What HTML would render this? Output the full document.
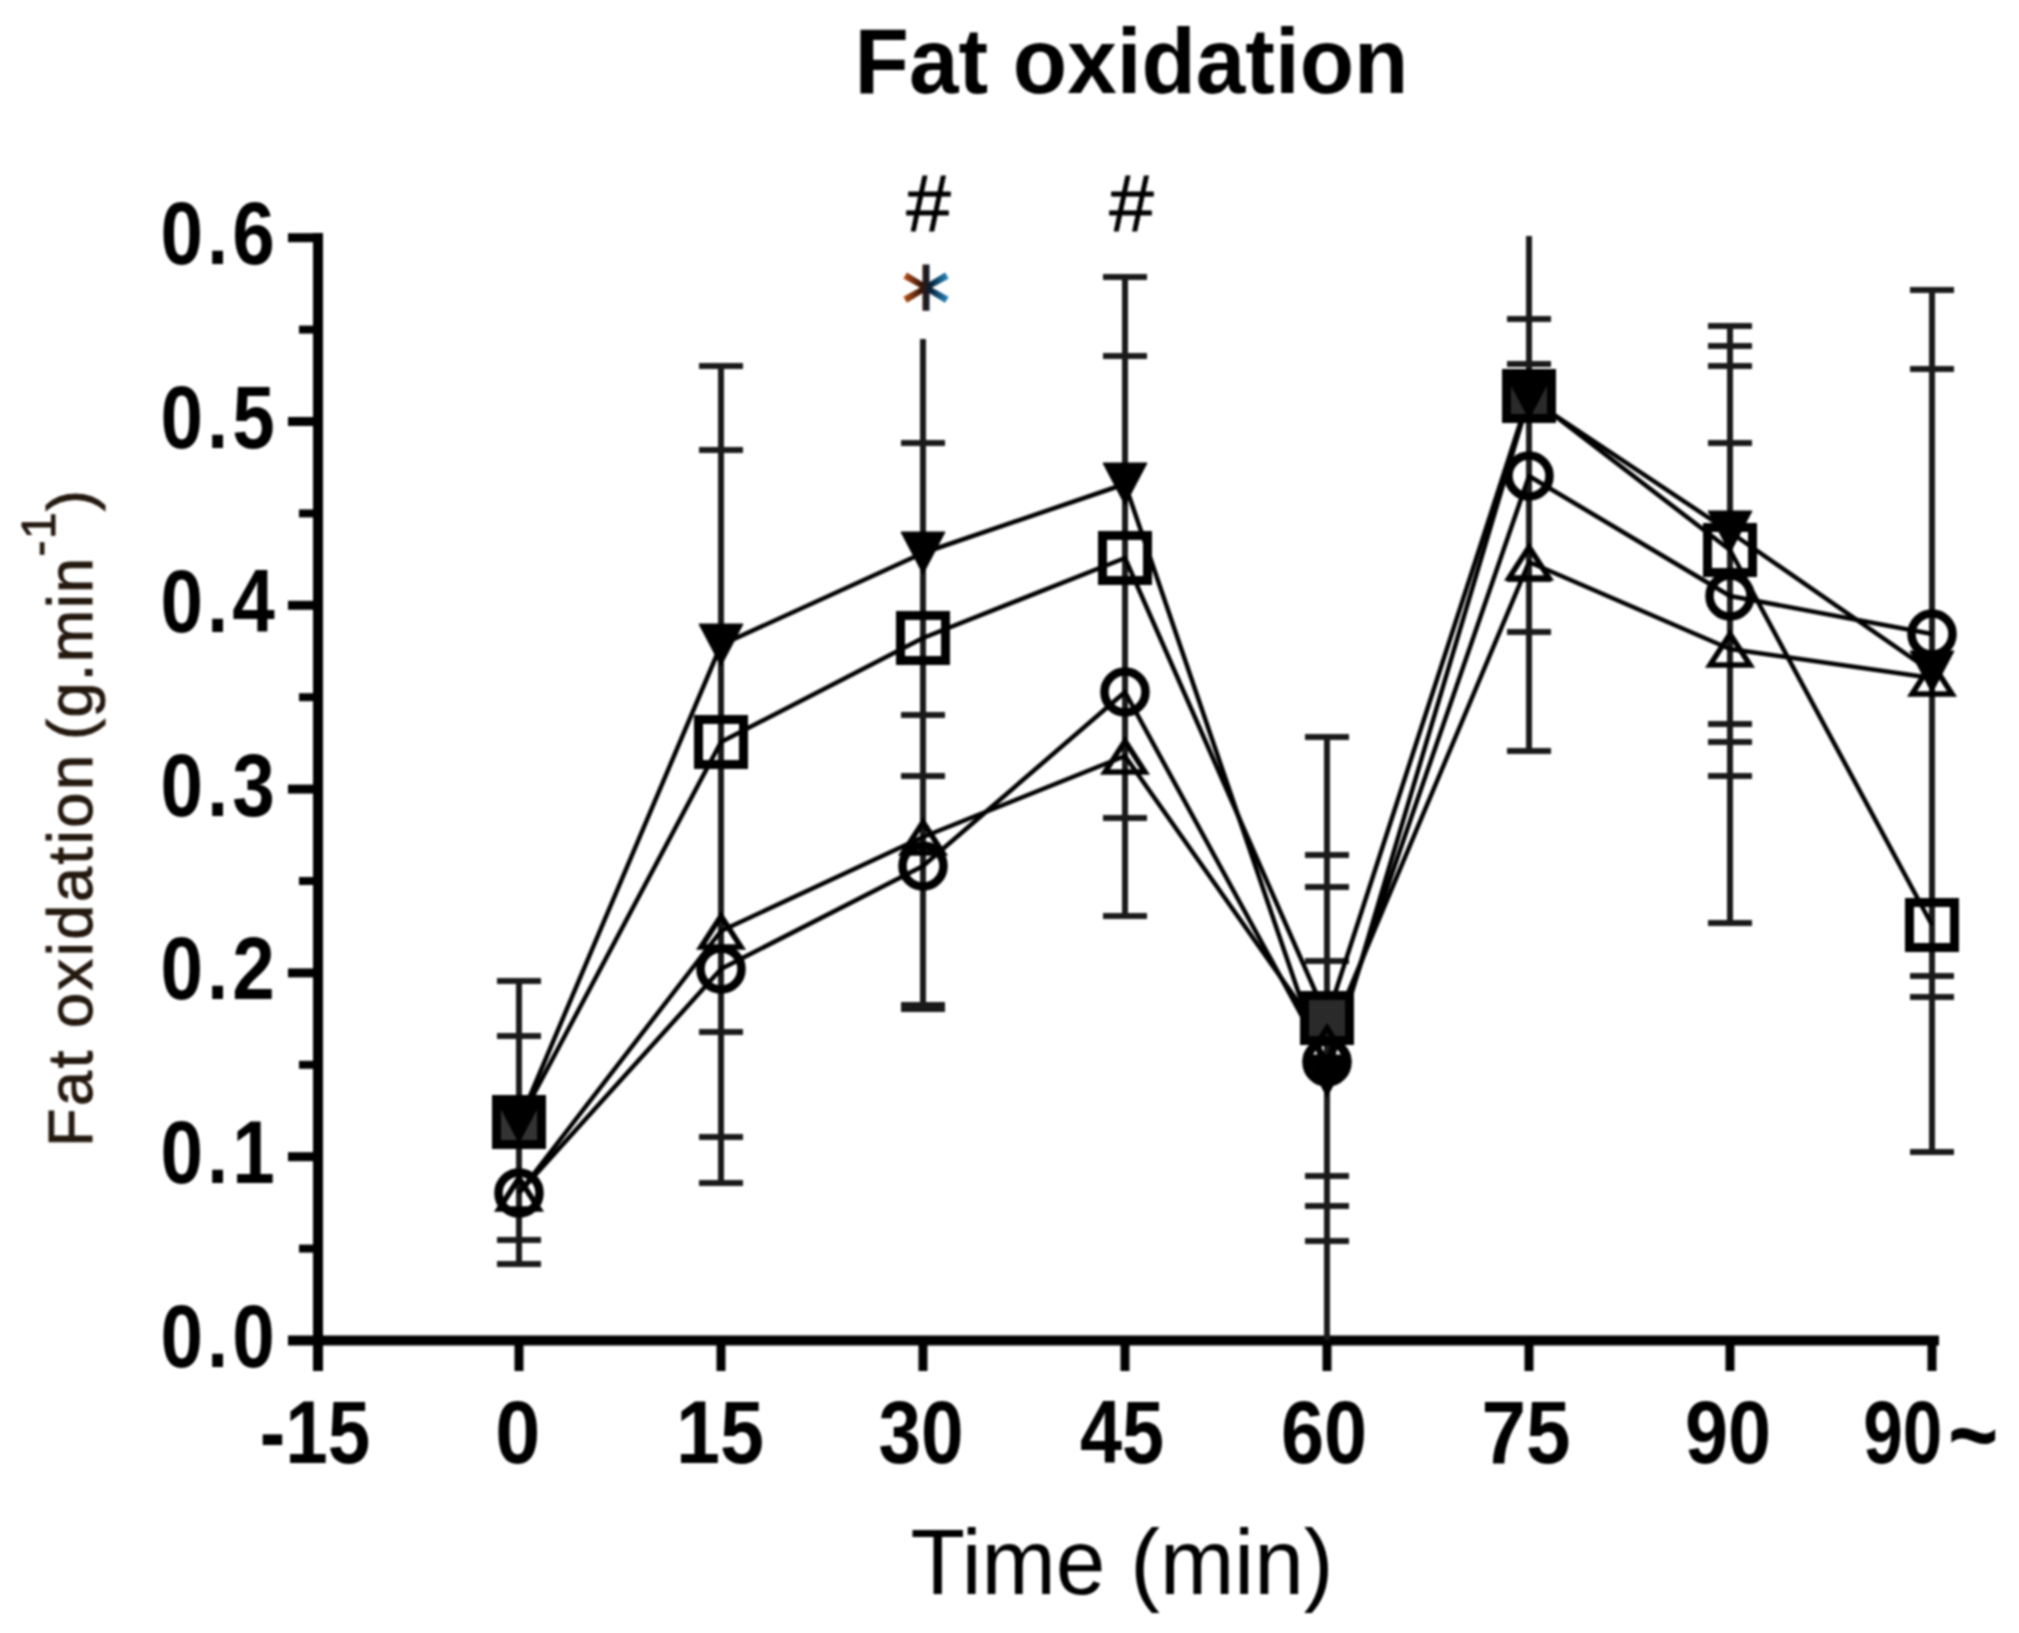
<!DOCTYPE html><html><head><meta charset="utf-8"><title>Fat oxidation</title><style>
html,body{margin:0;padding:0;background:#fff;}body{width:2019px;height:1633px;overflow:hidden;}
svg{display:block;filter:blur(1.1px);}text{font-family:"Liberation Sans",Arial,sans-serif;}
</style></head><body>
<svg width="2019" height="1633" viewBox="0 0 2019 1633">
<rect width="2019" height="1633" fill="#fff"/>
<text transform="translate(1131.5,93) scale(0.968,1)" text-anchor="middle" font-size="92" font-weight="bold" fill="#000">Fat oxidation</text>
<g font-size="63" fill="#24190f" stroke="#24190f" stroke-width="1">
<text transform="translate(92,1147) rotate(-90)" textLength="392" lengthAdjust="spacing">Fat oxidation</text>
<text transform="translate(92,740) rotate(-90)" textLength="250" lengthAdjust="spacing">(g.min<tspan dy="-37" font-size="48">-1</tspan><tspan dy="37">)</tspan></text>
</g>
<text transform="translate(1122,1594) scale(0.97,1)" text-anchor="middle" font-size="92" fill="#000">Time (min)</text>
<g stroke="#000" fill="none">
<line x1="318" y1="233" x2="318" y2="1371" stroke-width="10"/>
<line x1="288" y1="1340.5" x2="1939" y2="1340.5" stroke-width="10"/>
<line x1="288" y1="1340.5" x2="318" y2="1340.5" stroke-width="9"/>
<line x1="288" y1="1156.7" x2="318" y2="1156.7" stroke-width="9"/>
<line x1="288" y1="972.9" x2="318" y2="972.9" stroke-width="9"/>
<line x1="288" y1="789.1" x2="318" y2="789.1" stroke-width="9"/>
<line x1="288" y1="605.3" x2="318" y2="605.3" stroke-width="9"/>
<line x1="288" y1="421.5" x2="318" y2="421.5" stroke-width="9"/>
<line x1="288" y1="237.7" x2="318" y2="237.7" stroke-width="9"/>
<line x1="299" y1="1248.6" x2="318" y2="1248.6" stroke-width="8"/>
<line x1="299" y1="1064.8" x2="318" y2="1064.8" stroke-width="8"/>
<line x1="299" y1="881.0" x2="318" y2="881.0" stroke-width="8"/>
<line x1="299" y1="697.2" x2="318" y2="697.2" stroke-width="8"/>
<line x1="299" y1="513.4" x2="318" y2="513.4" stroke-width="8"/>
<line x1="299" y1="329.6" x2="318" y2="329.6" stroke-width="8"/>
<line x1="519" y1="1340" x2="519" y2="1371" stroke-width="9"/>
<line x1="721" y1="1340" x2="721" y2="1371" stroke-width="9"/>
<line x1="923" y1="1340" x2="923" y2="1371" stroke-width="9"/>
<line x1="1125" y1="1340" x2="1125" y2="1371" stroke-width="9"/>
<line x1="1327" y1="1340" x2="1327" y2="1371" stroke-width="9"/>
<line x1="1529" y1="1340" x2="1529" y2="1371" stroke-width="9"/>
<line x1="1730" y1="1340" x2="1730" y2="1371" stroke-width="9"/>
<line x1="1932" y1="1340" x2="1932" y2="1371" stroke-width="9"/>
</g>
<g font-size="89" font-weight="bold" fill="#000">
<text transform="translate(160.5,1367.0) scale(0.86,1)" letter-spacing="4.6">0.0</text>
<text transform="translate(160.5,1183.2) scale(0.86,1)" letter-spacing="4.6">0.1</text>
<text transform="translate(160.5,999.4) scale(0.86,1)" letter-spacing="4.6">0.2</text>
<text transform="translate(160.5,815.6) scale(0.86,1)" letter-spacing="4.6">0.3</text>
<text transform="translate(160.5,631.8) scale(0.86,1)" letter-spacing="4.6">0.4</text>
<text transform="translate(160.5,448.0) scale(0.86,1)" letter-spacing="4.6">0.5</text>
<text transform="translate(160.5,264.2) scale(0.86,1)" letter-spacing="4.6">0.6</text>
</g>
<g font-size="89" font-weight="bold" fill="#000" text-anchor="middle">
<text transform="translate(315,1462.5) scale(0.86,1)">-15</text>
<text transform="translate(517.75,1462.5) scale(0.91,1)">0</text>
<text transform="translate(720,1462.5) scale(0.89,1)">15</text>
<text transform="translate(921,1462.5) scale(0.86,1)">30</text>
<text transform="translate(1122,1462.5) scale(0.85,1)">45</text>
<text transform="translate(1324,1462.5) scale(0.87,1)">60</text>
<text transform="translate(1526,1462.5) scale(0.9,1)">75</text>
<text transform="translate(1728,1462.5) scale(0.87,1)">90</text>
<text transform="translate(1902.8,1462.5) scale(0.8,1)">90</text>
<text transform="translate(1973.3,1469.5) scale(0.98,1.15)" font-size="88">~</text>
</g>
<g font-size="80" fill="#000" text-anchor="middle" stroke="#000" stroke-width="0.8">
<text x="928.5" y="231">#</text>
<text x="1131.5" y="231">#</text>
</g>
<defs><linearGradient id="sg" x1="0" x2="1" y1="0" y2="0"><stop offset="0" stop-color="#c8581a"/><stop offset="0.4" stop-color="#3a1606"/><stop offset="0.6" stop-color="#062038"/><stop offset="1" stop-color="#2a9ad8"/></linearGradient></defs>
<text x="926" y="338" font-size="98" font-family="DejaVu Sans" style="font-family:'DejaVu Sans',sans-serif" text-anchor="middle" fill="url(#sg)" stroke="url(#sg)" stroke-width="1.5">*</text>
<g stroke="#1a1a1a" fill="none">
<line x1="519" y1="981" x2="519" y2="1264" stroke-width="6"/>
<line x1="497" y1="981" x2="541" y2="981" stroke-width="6"/>
<line x1="497" y1="1036" x2="541" y2="1036" stroke-width="6"/>
<line x1="497" y1="1240" x2="541" y2="1240" stroke-width="6"/>
<line x1="497" y1="1264" x2="541" y2="1264" stroke-width="6"/>
<line x1="721" y1="366" x2="721" y2="1183" stroke-width="6"/>
<line x1="699" y1="366" x2="743" y2="366" stroke-width="6"/>
<line x1="699" y1="450" x2="743" y2="450" stroke-width="6"/>
<line x1="699" y1="1032" x2="743" y2="1032" stroke-width="6"/>
<line x1="699" y1="1137" x2="743" y2="1137" stroke-width="6"/>
<line x1="699" y1="1183" x2="743" y2="1183" stroke-width="6"/>
<line x1="923" y1="339" x2="923" y2="1009" stroke-width="6"/>
<line x1="901" y1="443" x2="945" y2="443" stroke-width="6"/>
<line x1="901" y1="715" x2="945" y2="715" stroke-width="6"/>
<line x1="901" y1="776" x2="945" y2="776" stroke-width="6"/>
<line x1="901" y1="1007" x2="945" y2="1007" stroke-width="10"/>
<line x1="1125" y1="277" x2="1125" y2="916" stroke-width="6"/>
<line x1="1103" y1="277" x2="1147" y2="277" stroke-width="6"/>
<line x1="1103" y1="356" x2="1147" y2="356" stroke-width="6"/>
<line x1="1103" y1="818" x2="1147" y2="818" stroke-width="6"/>
<line x1="1103" y1="916" x2="1147" y2="916" stroke-width="6"/>
<line x1="1327" y1="737" x2="1327" y2="1340" stroke-width="6"/>
<line x1="1305" y1="737" x2="1349" y2="737" stroke-width="6"/>
<line x1="1305" y1="855" x2="1349" y2="855" stroke-width="6"/>
<line x1="1305" y1="887" x2="1349" y2="887" stroke-width="6"/>
<line x1="1305" y1="961" x2="1349" y2="961" stroke-width="6"/>
<line x1="1305" y1="1176" x2="1349" y2="1176" stroke-width="6"/>
<line x1="1305" y1="1206" x2="1349" y2="1206" stroke-width="6"/>
<line x1="1305" y1="1241" x2="1349" y2="1241" stroke-width="6"/>
<line x1="1529" y1="236" x2="1529" y2="751" stroke-width="6"/>
<line x1="1507" y1="319" x2="1551" y2="319" stroke-width="6"/>
<line x1="1507" y1="364" x2="1551" y2="364" stroke-width="6"/>
<line x1="1507" y1="579" x2="1551" y2="579" stroke-width="6"/>
<line x1="1507" y1="632" x2="1551" y2="632" stroke-width="6"/>
<line x1="1507" y1="751" x2="1551" y2="751" stroke-width="6"/>
<line x1="1730" y1="326" x2="1730" y2="923" stroke-width="6"/>
<line x1="1708" y1="326" x2="1752" y2="326" stroke-width="6"/>
<line x1="1708" y1="346" x2="1752" y2="346" stroke-width="6"/>
<line x1="1708" y1="366" x2="1752" y2="366" stroke-width="6"/>
<line x1="1708" y1="443" x2="1752" y2="443" stroke-width="6"/>
<line x1="1708" y1="724" x2="1752" y2="724" stroke-width="6"/>
<line x1="1708" y1="742" x2="1752" y2="742" stroke-width="6"/>
<line x1="1708" y1="776" x2="1752" y2="776" stroke-width="6"/>
<line x1="1708" y1="923" x2="1752" y2="923" stroke-width="6"/>
<line x1="1932" y1="290" x2="1932" y2="1152" stroke-width="6"/>
<line x1="1910" y1="290" x2="1954" y2="290" stroke-width="6"/>
<line x1="1910" y1="369" x2="1954" y2="369" stroke-width="6"/>
<line x1="1910" y1="976" x2="1954" y2="976" stroke-width="6"/>
<line x1="1910" y1="997" x2="1954" y2="997" stroke-width="6"/>
<line x1="1910" y1="1152" x2="1954" y2="1152" stroke-width="6"/>
</g>
<g stroke="#000" fill="none" stroke-width="4.5" stroke-linejoin="round">
<polyline points="519,1122 721,645 923,553 1125,484 1327,1076 1529,398 1730,532 1932,672"/>
<polyline points="519,1122 721,742 923,638 1125,558 1327,1018 1529,396 1730,550 1932,925"/>
<polyline points="519,1193 721,969 923,866 1125,692 1327,1062 1529,476 1730,596 1932,634"/>
<polyline points="519,1193 721,931 923,837 1125,756 1327,1043 1529,562 1730,649 1932,678"/>
</g>
<g stroke="#000">
<rect x="496.5" y="1099.5" width="45" height="45" fill="#333" stroke-width="9"/>
<rect x="698.5" y="719.5" width="45" height="45" fill="none" stroke-width="9"/>
<rect x="900.5" y="615.5" width="45" height="45" fill="none" stroke-width="9"/>
<rect x="1102.5" y="535.5" width="45" height="45" fill="none" stroke-width="9"/>
<rect x="1304.5" y="995.5" width="45" height="45" fill="#2a2a2a" stroke-width="9"/>
<rect x="1506.5" y="373.5" width="45" height="45" fill="#2a2a2a" stroke-width="9"/>
<rect x="1707.5" y="527.5" width="45" height="45" fill="none" stroke-width="9"/>
<rect x="1909.5" y="902.5" width="45" height="45" fill="none" stroke-width="9"/>
<circle cx="519" cy="1193" r="20.5" fill="none" stroke-width="8.5"/>
<circle cx="721" cy="969" r="20.5" fill="none" stroke-width="8.5"/>
<circle cx="923" cy="866" r="20.5" fill="none" stroke-width="8.5"/>
<circle cx="1125" cy="692" r="20.5" fill="none" stroke-width="8.5"/>
<circle cx="1327" cy="1062" r="20.5" fill="none" stroke-width="8.5"/>
<circle cx="1529" cy="476" r="20.5" fill="none" stroke-width="8.5"/>
<circle cx="1730" cy="596" r="20.5" fill="none" stroke-width="8.5"/>
<circle cx="1932" cy="634" r="20.5" fill="none" stroke-width="8.5"/>
<polygon points="519,1178 539,1209 499,1209" fill="none" stroke-width="5.5" stroke-linejoin="miter"/>
<polygon points="721,916 741,947 701,947" fill="none" stroke-width="5.5" stroke-linejoin="miter"/>
<polygon points="923,822 943,853 903,853" fill="none" stroke-width="5.5" stroke-linejoin="miter"/>
<polygon points="1125,741 1145,772 1105,772" fill="none" stroke-width="5.5" stroke-linejoin="miter"/>
<polygon points="1327,1028 1347,1059 1307,1059" fill="none" stroke-width="5.5" stroke-linejoin="miter"/>
<polygon points="1529,547 1549,578 1509,578" fill="none" stroke-width="5.5" stroke-linejoin="miter"/>
<polygon points="1730,634 1750,665 1710,665" fill="none" stroke-width="5.5" stroke-linejoin="miter"/>
<polygon points="1932,663 1952,694 1912,694" fill="none" stroke-width="5.5" stroke-linejoin="miter"/>
<polygon points="497,1101 541,1101 519,1143" fill="#000" stroke-width="1"/>
<polygon points="699,624 743,624 721,666" fill="#000" stroke-width="1"/>
<polygon points="901,532 945,532 923,574" fill="#000" stroke-width="1"/>
<polygon points="1103,463 1147,463 1125,505" fill="#000" stroke-width="1"/>
<polygon points="1305,1055 1349,1055 1327,1097" fill="#000" stroke-width="1"/>
<polygon points="1507,377 1551,377 1529,419" fill="#000" stroke-width="1"/>
<polygon points="1708,511 1752,511 1730,553" fill="#000" stroke-width="1"/>
<polygon points="1910,651 1954,651 1932,693" fill="#000" stroke-width="1"/>
</g>
</svg></body></html>
